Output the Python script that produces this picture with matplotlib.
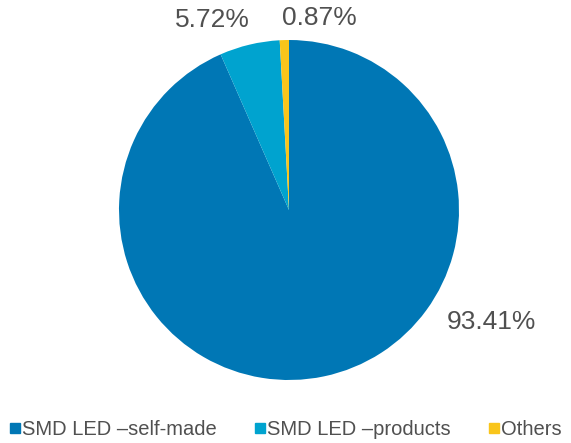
import matplotlib
matplotlib.use('Agg')
import matplotlib.pyplot as plt
from matplotlib.lines import Line2D

# data
labels = ['SMD LED \u2013self-made', 'SMD LED \u2013products', 'Others']
shares = [93.41, 5.72, 0.87]
colors = ['#0077B5', '#00A3CF', '#F9C51B']
# where each percent label sits (data units, radius = 1)
label_pos = [(1.19, -0.66), (-0.45, 1.12), (0.18, 1.13)]

plt.rcParams['font.family'] = ['Liberation Sans', 'DejaVu Sans']

fig = plt.figure(figsize=(5.71, 4.43), dpi=100)
ax = fig.add_axes([0, 0, 1, 1])
ax.pie(shares, colors=colors, startangle=90, counterclock=False, radius=1.0,
       wedgeprops={'linewidth': 0})
ax.set_aspect('auto')
ax.set_xlim(-289 / 170, (571 - 289) / 170)
ax.set_ylim(-(443 - 210) / 170, 210 / 170)
ax.axis('off')

for (x, y), v in zip(label_pos, shares):
    ax.text(x, y, '%.2f%%' % v, ha='center', va='center', fontsize=19, color='#505050')

handles = [Line2D([], [], marker='s', linestyle='', markersize=6.5, color=c) for c in colors]
fig.legend(handles, labels, loc='center', bbox_to_anchor=(0.5, 0.03), ncol=3, frameon=False,
           fontsize=14.5, labelcolor='#505050', handlelength=0.5, handletextpad=0.1,
           columnspacing=1.9, borderaxespad=0)

fig.savefig('out.png', dpi=100)
